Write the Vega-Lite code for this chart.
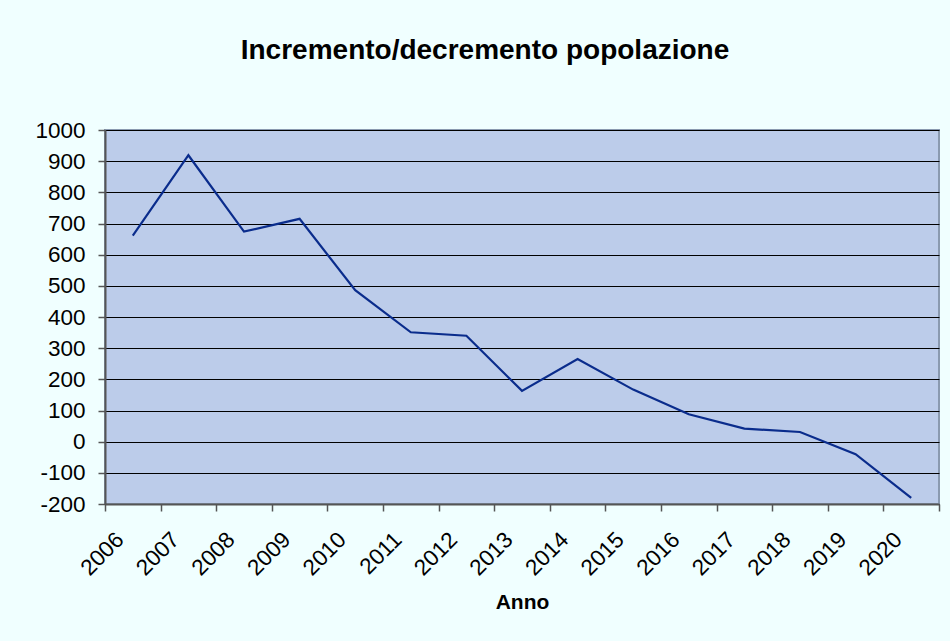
{
  "$schema": "https://vega.github.io/schema/vega-lite/v6.json",
  "width": 834,
  "height": 374,
  "autosize": {"type": "none"},
  "padding": {"left": 105, "top": 130, "right": 11, "bottom": 137},
  "background": "#F0FFFF",
  "title": {
    "text": "Incremento/decremento popolazione",
    "font": "Liberation Sans",
    "fontSize": 28,
    "fontWeight": "bold",
    "color": "#000000",
    "anchor": "middle",
    "dx": -37,
    "offset": 54
  },
  "config": {
    "view": {"fill": "#BCCCEA", "stroke": "#8A9AB0", "strokeWidth": 2},
    "axis": {
      "labelFont": "Liberation Sans",
      "labelFontSize": 22.5,
      "labelColor": "#000000",
      "titleFont": "Liberation Sans",
      "titleColor": "#000000",
      "domainColor": "#555555",
      "domainWidth": 2,
      "tickColor": "#555555",
      "tickWidth": 1.5,
      "tickSize": 7
    }
  },
  "data": {
    "values": [
      {"anno": "2006", "valore": 661},
      {"anno": "2007", "valore": 919},
      {"anno": "2008", "valore": 674},
      {"anno": "2009", "valore": 715},
      {"anno": "2010", "valore": 486},
      {"anno": "2011", "valore": 351},
      {"anno": "2012", "valore": 340},
      {"anno": "2013", "valore": 163},
      {"anno": "2014", "valore": 265},
      {"anno": "2015", "valore": 167},
      {"anno": "2016", "valore": 88},
      {"anno": "2017", "valore": 42},
      {"anno": "2018", "valore": 31},
      {"anno": "2019", "valore": -40},
      {"anno": "2020", "valore": -180}
    ]
  },
  "mark": {"type": "line", "color": "#0A2C8C", "strokeWidth": 2.2},
  "encoding": {
    "x": {
      "field": "anno",
      "type": "ordinal",
      "bandPosition": 0.5,
      "scale": {"type": "band", "paddingInner": 0, "paddingOuter": 0},
      "axis": {
        "title": "Anno",
        "titleFontSize": 21,
        "titleFontWeight": "bold",
        "titlePadding": 12,
        "labelAngle": -45,
        "labelPadding": 17,
        "labelOffset": -21,
        "tickBand": "extent",
        "grid": false
      }
    },
    "y": {
      "field": "valore",
      "type": "quantitative",
      "scale": {"domain": [-200, 1000], "nice": false, "zero": false},
      "axis": {
        "title": null,
        "values": [-200, -100, 0, 100, 200, 300, 400, 500, 600, 700, 800, 900, 1000],
        "labelExpr": "'' + datum.value",
        "grid": true,
        "gridColor": "#000000",
        "gridWidth": 1,
        "gridOpacity": 1,
        "labelPadding": 13
      }
    }
  }
}
